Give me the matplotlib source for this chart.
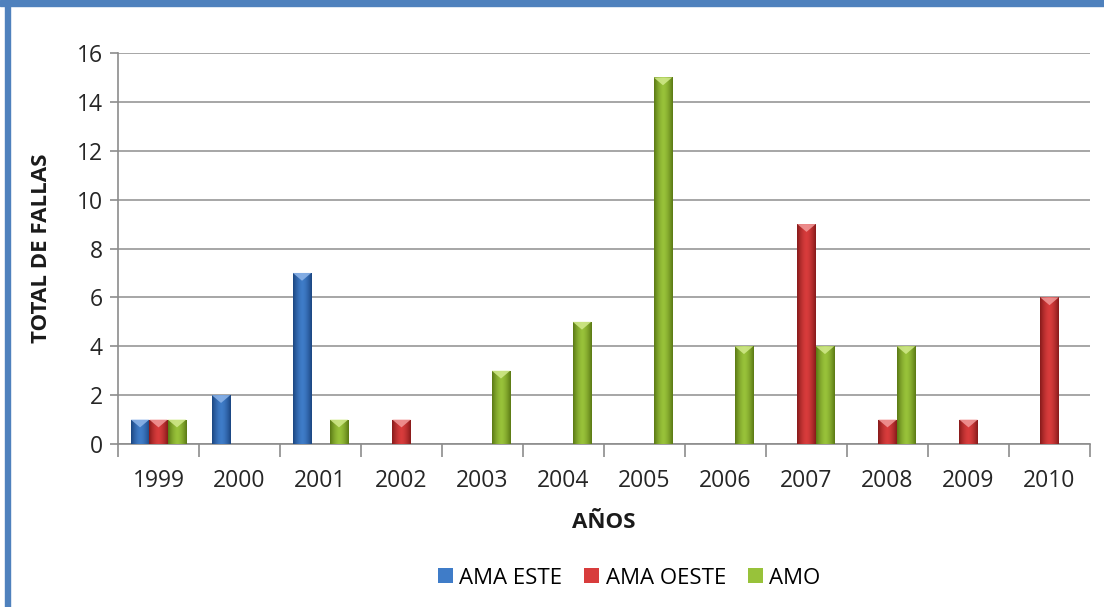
import numpy as np
import matplotlib
matplotlib.use("Agg")
import matplotlib.pyplot as plt
from matplotlib.patches import Polygon, Rectangle
from matplotlib.colors import LinearSegmentedColormap

plt.rcParams['font.family'] = ['Open Sans', 'DejaVu Sans']

years = ['1999', '2000', '2001', '2002', '2003', '2004',
         '2005', '2006', '2007', '2008', '2009', '2010']
ama_este = [1, 2, 7, 0, 0, 0, 0, 0, 0, 0, 0, 0]
ama_oeste = [1, 0, 0, 1, 0, 0, 0, 0, 9, 1, 1, 6]
amo = [1, 0, 1, 0, 3, 5, 15, 4, 4, 4, 0, 0]

series = [
    ('AMA ESTE', ama_este, ('#1b4580', '#3f7cc8', '#8fb6ea')),
    ('AMA OESTE', ama_oeste, ('#861a1a', '#d83c3c', '#f29a9a')),
    ('AMO', amo, ('#5a7814', '#98c23a', '#d2ea8c')),
]

fig = plt.figure(figsize=(11.04, 6.07), dpi=100)
fig.patch.set_facecolor('white')
ax = fig.add_axes([118 / 1104, 1 - 444 / 607, (1090 - 118) / 1104, (444 - 53) / 607])

x = np.arange(len(years))
w = 0.228
grad = np.linspace(0, 1, 64)
shade = np.abs(grad - 0.5) * 2  # 0 at centre, 1 at edges

handles = []
for i, (name, vals, (dark, mid, light)) in enumerate(series):
    cmap = LinearSegmentedColormap.from_list(name, [mid, dark])
    bars = ax.bar(x + (i - 1) * w, vals, width=w, color=mid,
                  edgecolor='none', zorder=3, label=name)
    handles.append(bars)
    for b in bars:
        h = b.get_height()
        if h <= 0:
            b.set_visible(False)
            continue
        x0, x1 = b.get_x(), b.get_x() + b.get_width()
        im = ax.imshow(np.tile(shade ** 1.6, (2, 1)), cmap=cmap, aspect='auto',
                       extent=[x0, x1, 0, h], zorder=3.5, interpolation='bicubic')
        im.set_clip_path(b)
        tri_h = min(0.32, h * 0.5)
        ax.add_patch(Polygon([[x0, h], [x1, h], [(x0 + x1) / 2, h - tri_h]],
                             closed=True, facecolor=light, edgecolor='none',
                             alpha=0.85, zorder=4))

ax.set_xlim(-0.5, len(years) - 0.5)
ax.set_ylim(0, 16)
ax.set_yticks(range(0, 17, 2))
ax.set_xticks(x)
ax.set_xticklabels(years)
ax.set_xticks(np.arange(-0.5, len(years)), minor=True)
ax.tick_params(axis='x', which='major', length=0, pad=18, labelsize=16.5,
               labelcolor='#262626')
ax.tick_params(axis='x', which='minor', length=9, width=1.2, color='#8c8c8c')
ax.tick_params(axis='y', length=6, width=1.2, color='#8c8c8c', pad=5,
               labelsize=16.5, labelcolor='#262626')
ax.yaxis.grid(True, color='#a6a6a6', linewidth=1.4, zorder=0)
ax.set_axisbelow(True)
for s in ('top', 'right'):
    ax.spines[s].set_visible(False)
for s in ('left', 'bottom'):
    ax.spines[s].set_color('#8c8c8c')
    ax.spines[s].set_linewidth(1.2)

ax.set_ylabel('TOTAL DE FALLAS', fontsize=16, fontweight='bold', labelpad=18,
              color='#1a1a1a')
ax.set_xlabel('AÑOS', fontsize=16, fontweight='bold', labelpad=14,
              color='#1a1a1a')

fig.legend(handles=handles, loc='center', bbox_to_anchor=(0.570, 1 - 578 / 607),
           ncol=3, frameon=False, fontsize=16, handlelength=0.65,
           handleheight=0.65, handletextpad=0.3, columnspacing=1.0)

# frame bands
fig.patches.append(Rectangle((0, 1 - 6 / 607), 1, 6 / 607,
                             transform=fig.transFigure, color='#4f81bd', zorder=10))
fig.patches.append(Rectangle((5 / 1104, 0), 5 / 1104, 1,
                             transform=fig.transFigure, color='#4f81bd', zorder=10))

fig.savefig('out.png', dpi=100)
